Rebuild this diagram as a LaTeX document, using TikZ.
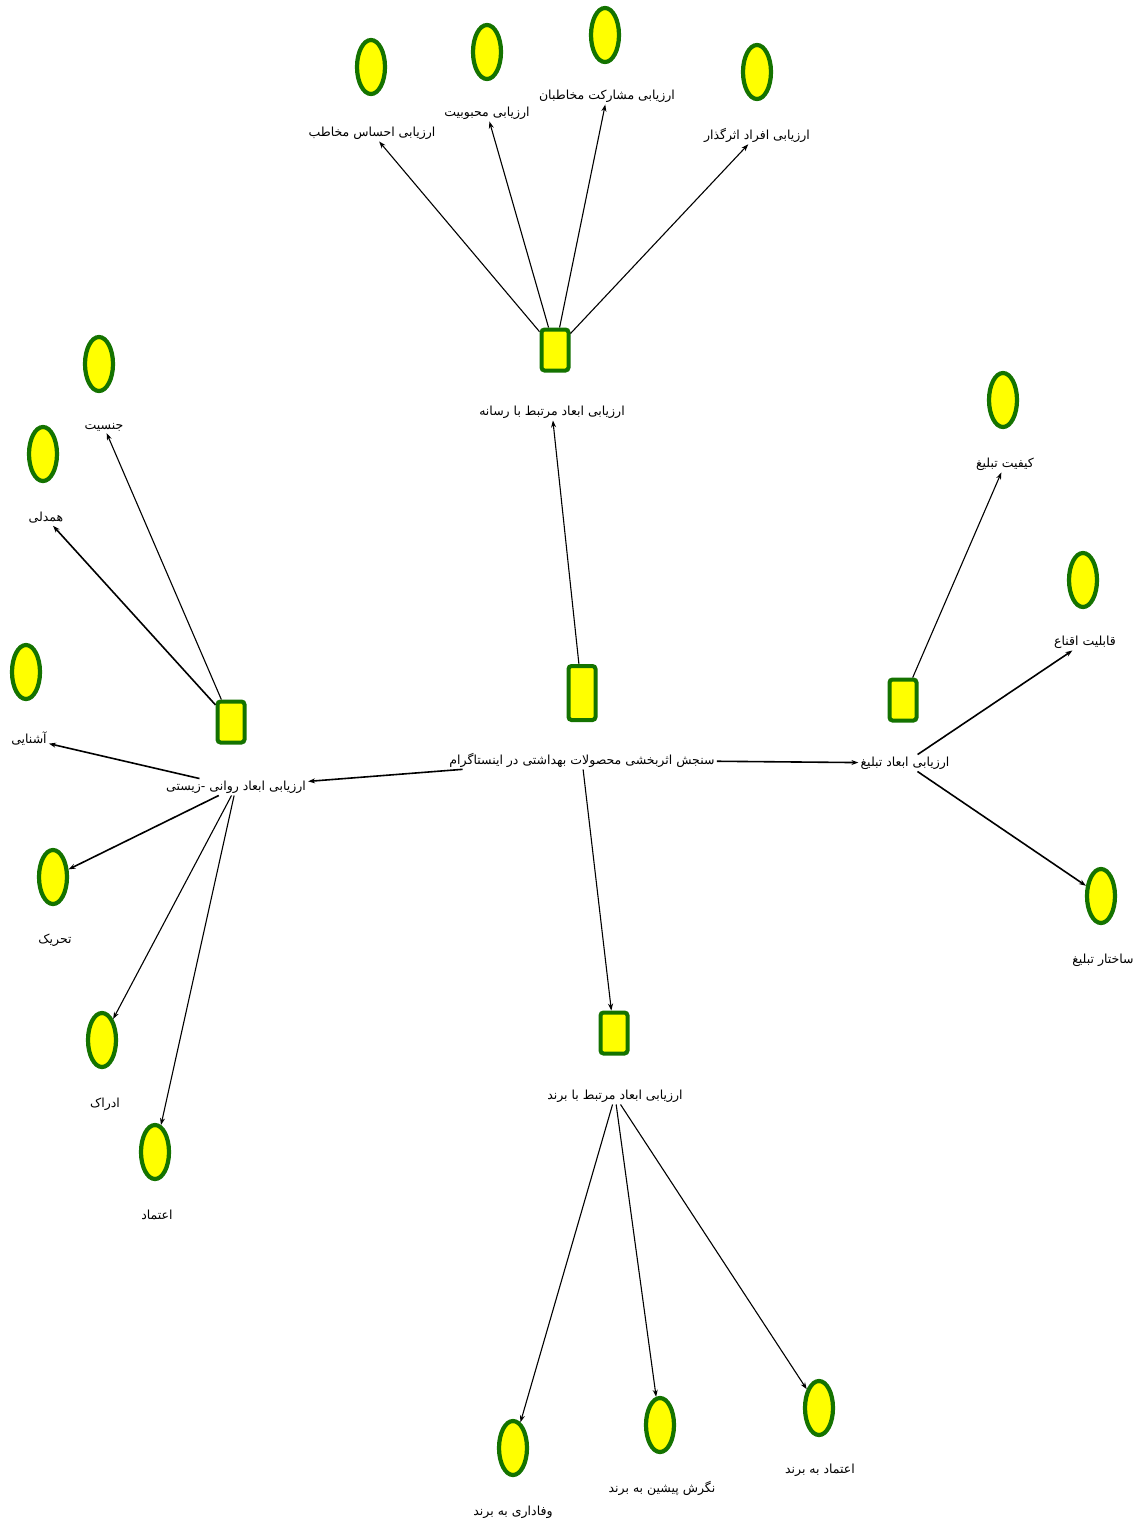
\documentclass[tikz,border=0pt]{standalone}
\usepackage{fontspec}
\usetikzlibrary{shapes.geometric,arrows.meta}
\newfontfamily\arabicfont[Script=Arabic]{DejaVu Sans}
\TeXXeTstate=1
\definecolor{nodegreen}{RGB}{20,115,0}
\definecolor{nodeyellow}{RGB}{255,255,0}
\tikzset{
  leaf/.style={ellipse,draw=nodegreen,fill=nodeyellow,line width=4.2pt,minimum width=28pt,minimum height=54pt,inner sep=0pt},
  hub/.style={rectangle,rounded corners=3pt,draw=nodegreen,fill=nodeyellow,line width=4pt,minimum width=27pt,minimum height=41pt,inner sep=0pt},
  lab/.style={font=\arabicfont\fontsize{12.5}{14}\selectfont,inner sep=2pt},
  conn/.style={-{Stealth[length=7pt,width=5pt]},line width=1.1pt,black},
  connb/.style={-{Stealth[length=7pt,width=5pt]},line width=1.6pt,black}
}
\newcommand{\ar}[1]{\beginR #1\endR}
\begin{document}
\begin{tikzpicture}[x=1pt,y=-1pt]
\useasboundingbox[fill=white] (0,0) rectangle (1140,1526);
% center
\node[hub,minimum height=54pt] (c) at (582,693) {};
\node[lab] (cl) at (582,760) {\ar{سنجش اثربخشی محصولات بهداشتی در اینستاگرام}};
% top hub
\node[hub] (t) at (555,350) {};
\node[lab] (tl) at (552,412) {\ar{ارزیابی ابعاد مرتبط با رسانه}};
\node[leaf] (t1) at (371,67) {};
\node[lab] (t1l) at (372,133) {\ar{ارزیابی احساس مخاطب}};
\node[leaf] (t2) at (487,52) {};
\node[lab] (t2l) at (487,113) {\ar{ارزیابی محبوبیت}};
\node[leaf] (t3) at (605,35) {};
\node[lab] (t3l) at (607,96) {\ar{ارزیابی مشارکت مخاطبان}};
\node[leaf] (t4) at (757,72) {};
\node[lab] (t4l) at (757,135) {\ar{ارزیابی افراد اثرگذار}};
% left hub
\node[hub] (l) at (231,722) {};
\node[lab] (ll) at (236,787) {\ar{ارزیابی ابعاد روانی -زیستی}};
\node[leaf] (l1) at (99,364) {};
\node[lab] (l1l) at (104,427) {\ar{جنسیت}};
\node[leaf] (l2) at (43,454) {};
\node[lab] (l2l) at (46,518) {\ar{همدلی}};
\node[leaf] (l3) at (26,672) {};
\node[lab] (l3l) at (29,739) {\ar{آشنایی}};
\node[leaf] (l4) at (53,877) {};
\node[lab] (l4l) at (55,940) {\ar{تحریک}};
\node[leaf] (l5) at (102,1040) {};
\node[lab] (l5l) at (105,1104) {\ar{ادراک}};
\node[leaf] (l6) at (155,1152) {};
\node[lab] (l6l) at (157,1215) {\ar{اعتماد}};
% right hub
\node[hub] (r) at (903,700) {};
\node[lab] (rl) at (905,763) {\ar{ارزیابی ابعاد تبلیغ}};
\node[leaf] (r1) at (1003,400) {};
\node[lab] (r1l) at (1005,464) {\ar{کیفیت تبلیغ}};
\node[leaf] (r2) at (1083,580) {};
\node[lab] (r2l) at (1085,642) {\ar{قابلیت اقناع}};
\node[leaf] (r3) at (1101,896) {};
\node[lab] (r3l) at (1103,960) {\ar{ساختار تبلیغ}};
% bottom hub
\node[hub] (b) at (614,1033) {};
\node[lab] (bl) at (615,1096) {\ar{ارزیابی ابعاد مرتبط با برند}};
\node[leaf] (b1) at (513,1448) {};
\node[lab] (b1l) at (513,1512) {\ar{وفاداری به برند}};
\node[leaf] (b2) at (660,1425) {};
\node[lab] (b2l) at (662,1488) {\ar{نگرش پیشین به برند}};
\node[leaf] (b3) at (819,1408) {};
\node[lab] (b3l) at (820,1470) {\ar{اعتماد به برند}};
% connectors from center
\draw[conn] (c) -- (tl);
\draw[connb] (cl) -- (ll);
\draw[connb] (cl) -- (rl);
\draw[conn] (cl) -- (b);
% top
\draw[conn] (t) -- (t1l);
\draw[conn] (t) -- (t2l);
\draw[conn] (t) -- (t3l);
\draw[conn] (t) -- (t4l);
% left
\draw[conn] (l) -- (l1l);
\draw[connb] (l) -- (l2l);
\draw[connb] (ll) -- (l3l);
\draw[connb] (ll) -- (l4);
\draw[conn] (ll) -- (l5);
\draw[conn] (ll) -- (l6);
% right
\draw[conn] (r) -- (r1l);
\draw[connb] (rl) -- (r2l);
\draw[connb] (rl) -- (r3);
% bottom
\draw[conn] (bl) -- (b1);
\draw[conn] (bl) -- (b2);
\draw[conn] (bl) -- (b3);
\end{tikzpicture}
\end{document}
